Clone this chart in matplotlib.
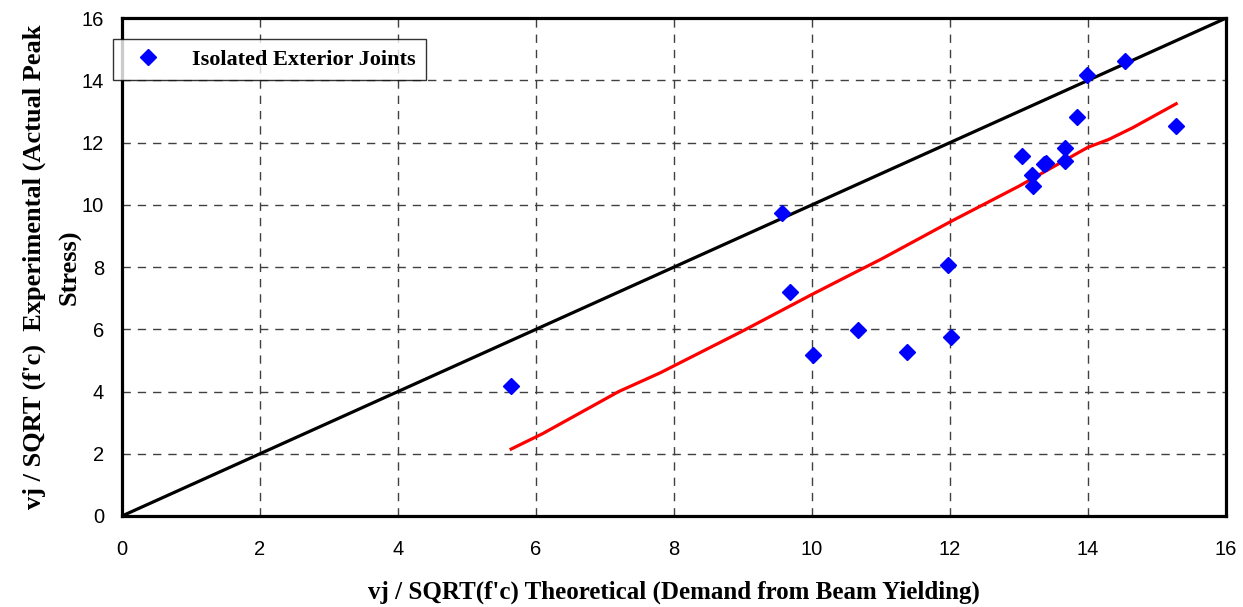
"""Isolated exterior joints: theoretical vs experimental joint shear stress."""
import matplotlib
matplotlib.use("Agg")
import matplotlib.pyplot as plt

# test data
theo = [5.64, 9.57, 9.68, 10.02, 10.67, 11.38, 11.97, 12.01, 13.04, 13.19,
        13.20, 13.36, 13.40, 13.67, 13.67, 13.84, 13.99, 14.54, 15.28]
expt = [4.17, 9.75, 7.20, 5.17, 5.97, 5.26, 8.06, 5.74, 11.58, 10.96,
        10.61, 11.30, 11.36, 11.82, 11.41, 12.83, 14.18, 14.63, 12.55]

# 1:1 reference line
ref_x = [0, 2, 4, 6, 8, 10, 12, 14, 16]
ref_y = [0, 2, 4, 6, 8, 10, 12, 14, 16]

# red fitted curve
fit_x = [5.64, 6.10, 7.20, 7.80, 9.00, 10.00, 10.60, 11.00, 12.00, 13.00, 14.00, 14.30, 14.65, 15.28]
fit_y = [2.15, 2.65, 4.00, 4.60, 5.95, 7.12, 7.80, 8.25, 9.45, 10.60, 11.85, 12.10, 12.48, 13.25]

SERIF = "Liberation Serif"
SANS = "Liberation Sans"

fig = plt.figure(figsize=(12.43, 6.07), dpi=100)
ax = fig.add_axes([0.0982, 0.150, 0.888, 0.820])

ax.plot(ref_x, ref_y, color="black", lw=2.3, zorder=3)
ax.plot(fit_x, fit_y, color="#ff0000", lw=2.3, zorder=3)
ax.plot(theo, expt, "D", color="#0000ff", ms=8, ls="none", zorder=4,
        label="Isolated Exterior Joints")

ax.set_xlim(0, 16)
ax.set_ylim(0, 16)
ax.set_xticks(range(0, 17, 2))
ax.set_yticks(range(0, 17, 2))
ax.tick_params(axis="x", length=0, pad=17, labelsize=14.5)
ax.tick_params(axis="y", length=0, pad=13, labelsize=14.5)
for lab in ax.get_xticklabels() + ax.get_yticklabels():
    lab.set_fontfamily(SANS)
ax.grid(color="#404040", ls=(0, (6, 5)), lw=1)
ax.set_axisbelow(True)
for sp in ax.spines.values():
    sp.set_linewidth(2.3)
    sp.set_color("black")

ax.set_xlabel("vj / SQRT(f'c) Theoretical (Demand from Beam Yielding)",
              fontfamily=SERIF, fontweight="bold", fontsize=18, labelpad=16)
ax.set_ylabel("vj / SQRT (f'c)  Experimental (Actual Peak\nStress)",
              fontfamily=SERIF, fontweight="bold", fontsize=19, labelpad=0,
              linespacing=1.7)

leg = ax.legend(loc="upper left", bbox_to_anchor=(-0.008, 0.958), borderaxespad=0,
                frameon=True, fancybox=False, borderpad=0.45, handletextpad=0.9,
                handlelength=2.2, prop={"family": SERIF, "weight": "bold", "size": 16})
leg.get_frame().set_edgecolor("black")
leg.get_frame().set_linewidth(1)
leg.set_zorder(5)

fig.savefig("out.png", dpi=100)
